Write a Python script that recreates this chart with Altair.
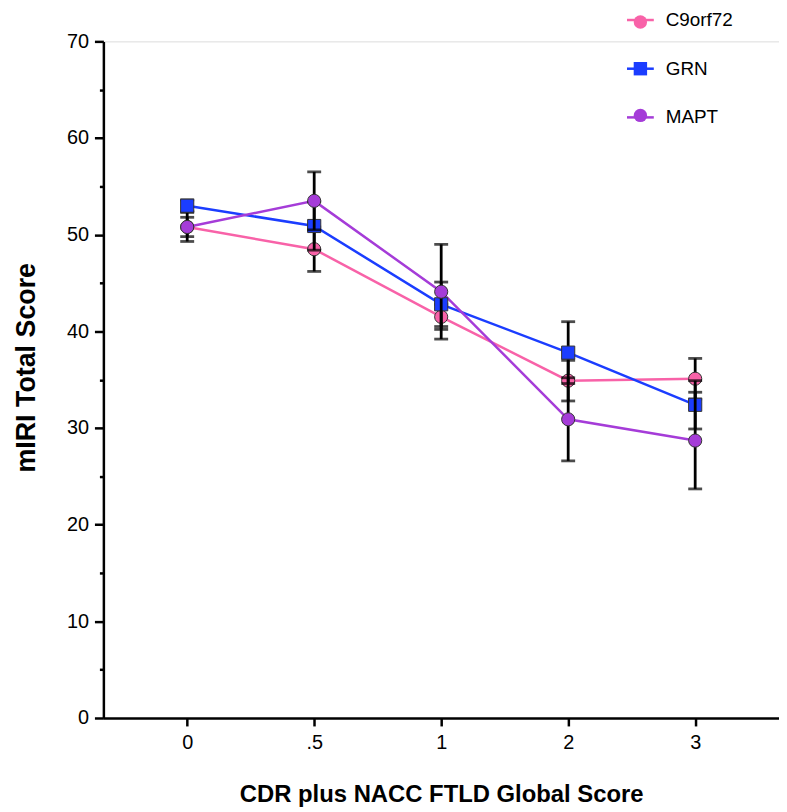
import altair as alt
import pandas as pd

scores = ["0", ".5", "1", "2", "3"]
genes = ["C9orf72", "GRN", "MAPT"]
c9_mean = [50.8, 48.5, 41.5, 34.9, 35.1]
c9_err = [1.5, 2.3, 1.3, 2.1, 2.1]
grn_mean = [53.0, 50.9, 42.8, 37.8, 32.4]
grn_err = [0.6, 2.5, 2.3, 3.2, 2.5]
mapt_mean = [50.8, 53.5, 44.1, 30.9, 28.7]
mapt_err = [1.0, 3.0, 4.9, 4.3, 5.0]
colors = ["#F862A8", "#1B3DFF", "#A53CD8"]
shapes = ["circle", "square", "circle"]
y_ticks = list(range(0, 75, 5))

rows = []
for g, means, errs in zip(genes, [c9_mean, grn_mean, mapt_mean], [c9_err, grn_err, mapt_err]):
    for s, m, e in zip(scores, means, errs):
        rows.append({"score": s, "gene": g, "marker": g, "mean": m,
                     "lo": round(m - e, 2), "hi": round(m + e, 2)})
df = pd.DataFrame(rows)

FONT = "Liberation Sans"

x_enc = alt.X(
    "score:N", sort=scores,
    scale=alt.Scale(type="point", padding=0.66),
    axis=alt.Axis(title="CDR plus NACC FTLD Global Score", labelAngle=0,
                  tickSize=8, labelPadding=7, titlePadding=30, titleFontSize=24,
                  domainWidth=2.5, tickWidth=2.5, domainColor="black", tickColor="black"),
)
y_scale = alt.Scale(domain=[0, 70], nice=False, zero=True)
y_axis = alt.Axis(
    title="mIRI Total Score", values=y_ticks, titleFontSize=27, titleY=328,
    labelExpr="datum.value % 10 === 0 ? datum.label : ''",
    tickSize={"condition": {"test": "datum.value % 10 === 0", "value": 9}, "value": 4},
    labelPadding=6, titlePadding=26,
    domainWidth=2.5, tickWidth=2.5, domainColor="black", tickColor="black",
)

line_legend = alt.Legend(
    title=None, orient="none", legendX=531, legendY=-31, direction="vertical",
    symbolType="M-2,0H2", symbolSize=182, symbolStrokeWidth=2.5, symbolFillColor="transparent",
    labelFontSize=19, labelColor="black", labelOffset=16, rowPadding=29, padding=0,
)
marker_legend = alt.Legend(
    title=None, orient="none", legendX=531, legendY=-29, direction="vertical",
    symbolSize=182, symbolStrokeColor="#333333", symbolStrokeWidth=1,
    symbolOpacity=1, labelExpr="''",
    labelFontSize=19, labelOffset=16, rowPadding=27, padding=0,
)

base = alt.Chart(df)

lines = base.mark_line(strokeWidth=2.5).encode(
    x=x_enc,
    y=alt.Y("mean:Q", scale=y_scale, axis=y_axis),
    stroke=alt.Stroke("gene:N", scale=alt.Scale(range=colors), legend=line_legend),
    detail="gene:N",
)

layers = [lines]
for g in genes:
    sub = base.transform_filter(alt.datum.gene == g)
    err = sub.mark_errorbar(ticks=True, color="black", thickness=2.8, size=14).encode(
        x=x_enc,
        y=alt.Y("lo:Q", scale=y_scale, axis=y_axis),
        y2="hi:Q",
    )
    pts = sub.mark_point(filled=True, size=175, opacity=1, stroke="#333333", strokeWidth=1).encode(
        x=x_enc,
        y=alt.Y("mean:Q", scale=y_scale, axis=y_axis),
        fill=alt.Fill("marker:N", scale=alt.Scale(range=colors), legend=marker_legend),
        shape=alt.Shape("marker:N", scale=alt.Scale(range=shapes), legend=marker_legend),
    )
    layers += [err, pts]

chart = alt.layer(*layers).properties(
    width=680, height=681,
    padding={"left": 4, "top": 0, "right": 0, "bottom": 0},
).configure_view(stroke=None).configure(font=FONT).configure_axis(
    labelFontSize=20, titleFontWeight="bold",
    labelColor="black", titleColor="black",
    domainColor="black", domainWidth=2.5,
    tickColor="black", tickWidth=2.5, grid=False,
)

chart.save("out.html", embed_options={"renderer": "svg", "actions": False})
